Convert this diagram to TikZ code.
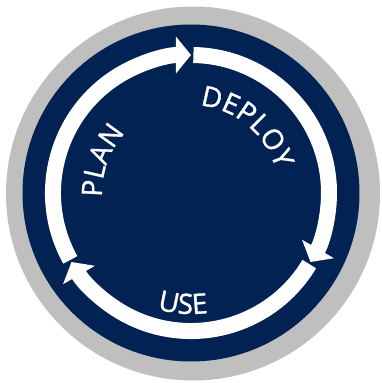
\documentclass[tikz,border=0pt]{standalone}
\usepackage{fontspec}
\setmainfont{Open Sans}
\newfontfamily\lblfamily[FakeBold=1.2]{Open Sans}
\usepackage{tikz}
\usetikzlibrary{arrows.meta,decorations.text}
\definecolor{cyclenavy}{RGB}{1,34,82}
\definecolor{cyclegray}{RGB}{191,191,191}
\newcommand{\lblfont}{\lblfamily\fontsize{28}{32}\selectfont}

\begin{document}
\begin{tikzpicture}[x=1pt,y=1pt,
    ring/.style={white,line width=16pt,-{Triangle[length=15pt,width=36pt]}},
    lbl/.style={decorate,decoration={text along path,text align=center,
        text color=white,text={|\lblfont|#1}}}]
      \useasboundingbox (-191,-190) rectangle (191,193);
      \fill[cyclegray] (2,-0.5) circle (187);
      \fill[cyclenavy] (0,0) circle (168.5);
      % three arcs, clockwise, tips at 90, -30 and 210 degrees
      \foreach \tip in {90,-30,210}
        \draw[ring] ({\tip+119}:138) arc[start angle=\tip+119,end angle=\tip,radius=138];
      \path[lbl=PLAN] (210:89) arc[start angle=210,end angle=110,radius=89];
      \path[lbl=DEPLOY] (100:88) arc[start angle=100,end angle=0,radius=88];
      \path[lbl=USE] (216:121) arc[start angle=216,end angle=316,radius=121];
    \end{tikzpicture}
\end{document}
